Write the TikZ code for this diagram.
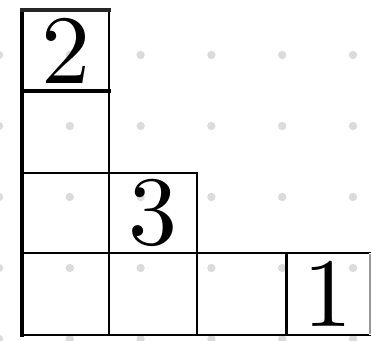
\documentclass[tikz,border=0pt]{standalone}
\usepackage{graphicx}
\begin{document}
\begin{tikzpicture}[x=1pt,y=-1pt,
  cell/.style={draw=black, line width=1.6pt, rectangle, inner sep=0pt, outer sep=0pt, anchor=north west},
  digit/.style={inner sep=0pt, outer sep=0pt},
  heavy/.style={line width=3.8pt, line cap=rect},
  gdot/.style={fill=black!14}]
\useasboundingbox (0,0) rectangle (372,340);
\clip (0,0) rectangle (372,340);
% dot grid
\foreach \i in {0,...,5} {
  \foreach \j in {0,...,4} {
    \fill[gdot] ({-1+70.8*\i},{55+71*\j}) circle (4.2pt);
  }
}
% cells, column 1
\node[cell, minimum width=87pt, minimum height=81pt] (c11) at (22,10) {};
\node[cell, minimum width=87pt, minimum height=82pt] (c21) at (22,91) {};
\node[cell, minimum width=87pt, minimum height=80pt] (c31) at (22,173) {};
\node[cell, minimum width=87pt, minimum height=82pt] (c41) at (22,253) {};
% column 2
\node[cell, minimum width=88pt, minimum height=80pt] (c32) at (109,173) {};
\node[cell, minimum width=88pt, minimum height=82pt] (c42) at (109,253) {};
% column 3
\node[cell, minimum width=89pt, minimum height=82pt] (c43) at (197,253) {};
% column 4
\node[cell, minimum width=84pt, minimum height=82pt] (c44) at (286,253) {};
\draw[white, line width=2pt] (c44.north east) -- (c44.south east);
\draw[black!40, line width=1.4pt] ([yshift=-1pt]c44.north east) -- ([yshift=1pt]c44.south east);
% heavy edges
\draw[heavy] (c11.north west) -- (c41.south west);
\draw[heavy, black!85, line width=3.4pt] (c11.north west) -- (c11.north east);
\draw[heavy, line width=3.4pt] (c11.south west) -- (c11.south east);
\draw[heavy, line width=3pt, line cap=butt] (c43.north east) -- (c43.south east);
% labels
\node[digit] (n2) at (c11.center) {\scalebox{9.8}{2}};
\node[digit] (n3) at (c32.center) {\scalebox{9.8}{3}};
\node[digit] (n1) at (c44.center) {\scalebox{9.8}{1}};
\end{tikzpicture}
\end{document}
